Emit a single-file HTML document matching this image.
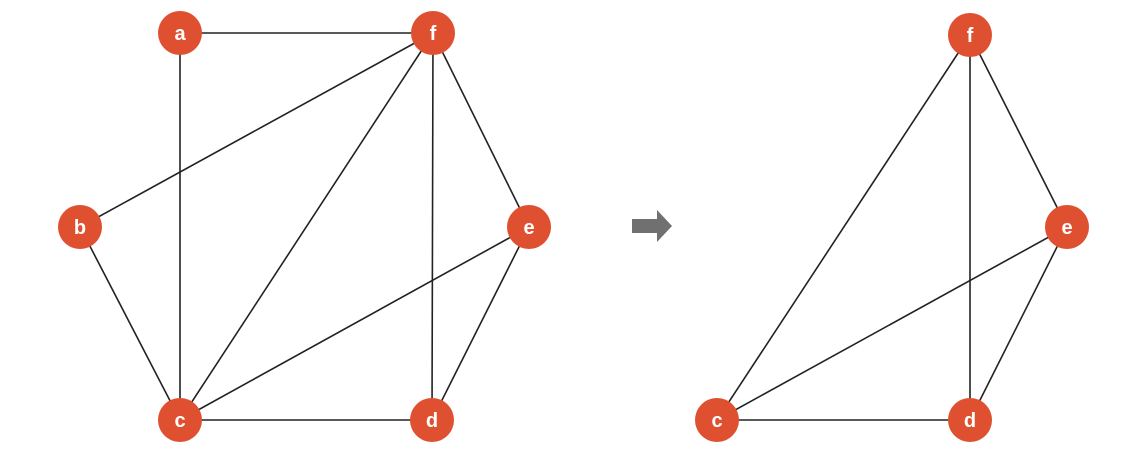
<!DOCTYPE html>
<html><head><style>body{margin:0;background:#fff}</style></head><body>
<svg width="1142" height="450" xmlns="http://www.w3.org/2000/svg">
<g stroke="#222" stroke-width="1.6" stroke-linecap="round">
<line x1="180" y1="33" x2="433" y2="33"/>
<line x1="180" y1="33" x2="180" y2="420"/>
<line x1="433" y1="33" x2="80" y2="227"/>
<line x1="433" y1="33" x2="180" y2="420"/>
<line x1="433" y1="33" x2="432" y2="420"/>
<line x1="433" y1="33" x2="529" y2="227"/>
<line x1="80" y1="227" x2="180" y2="420"/>
<line x1="529" y1="227" x2="180" y2="420"/>
<line x1="529" y1="227" x2="432" y2="420"/>
<line x1="180" y1="420" x2="432" y2="420"/>
<line x1="970" y1="35" x2="717" y2="420"/>
<line x1="970" y1="35" x2="970" y2="420"/>
<line x1="970" y1="35" x2="1067" y2="227"/>
<line x1="1067" y1="227" x2="717" y2="420"/>
<line x1="1067" y1="227" x2="970" y2="420"/>
<line x1="717" y1="420" x2="970" y2="420"/>
</g>
<polygon points="632,219 657,219 657,210 672,226 657,242 657,233 632,233" fill="#707070"/>
<g fill="#df5030">
<circle cx="180" cy="33" r="22"/><circle cx="433" cy="33" r="22"/>
<circle cx="80" cy="227" r="22"/><circle cx="529" cy="227" r="22"/>
<circle cx="180" cy="420" r="22"/><circle cx="432" cy="420" r="22"/>
<circle cx="970" cy="35" r="22"/><circle cx="1067" cy="227" r="22"/>
<circle cx="717" cy="420" r="22"/><circle cx="970" cy="420" r="22"/>
</g>
<g fill="#fff" font-family="Liberation Sans, sans-serif" font-size="20" font-weight="bold" text-anchor="middle">
<text x="180" y="40">a</text><text x="433" y="40">f</text>
<text x="80" y="234">b</text><text x="529" y="234">e</text>
<text x="180" y="427">c</text><text x="432" y="427">d</text>
<text x="970" y="42">f</text><text x="1067" y="234">e</text>
<text x="717" y="427">c</text><text x="970" y="427">d</text>
</g>
</svg>
</body></html>
